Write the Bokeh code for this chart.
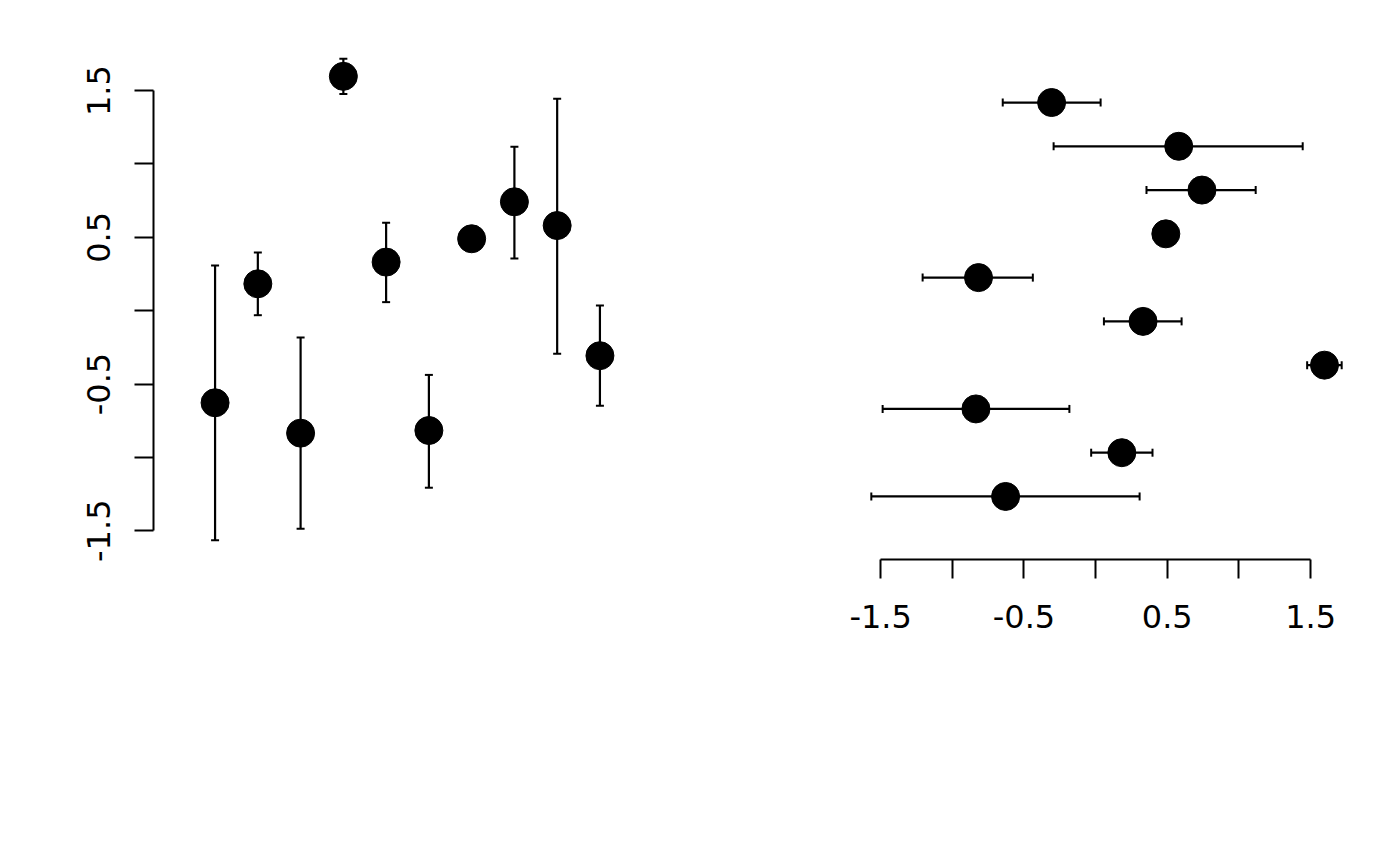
import math
from bokeh.plotting import figure
from bokeh.models import (ColumnDataSource, Range1d, FixedTicker, Whisker, TeeHead)
from bokeh.layouts import row
from bokeh.embed import file_html
from bokeh.resources import INLINE

# ---- data ----
index = [1, 2, 3, 4, 5, 6, 7, 8, 9, 10]
values = [-0.628, 0.183, -0.835, 1.597, 0.331, -0.817, 0.490, 0.742, 0.580, -0.307]
lower = [-1.565, -0.031, -1.486, 1.476, 0.058, -1.207, 0.490, 0.355, -0.293, -0.648]
upper = [0.307, 0.397, -0.183, 1.717, 0.600, -0.438, 0.490, 1.117, 1.445, 0.035]
tick_values = [-1.5, -1.0, -0.5, 0.0, 0.5, 1.0, 1.5]
tick_labels = {-1.5: "-1.5", -1.0: "", -0.5: "-0.5", 0.0: "", 0.5: "0.5", 1.0: "", 1.5: "1.5"}

src = ColumnDataSource(dict(idx=index, val=values, lo=lower, hi=upper))

# ranges (R style: 4% padding)
vmin, vmax = min(lower), max(upper)
pad = 0.04 * (vmax - vmin)
val_range = (vmin - pad, vmax + pad)
idx_range = (0 - 0.44, 11 + 0.44)

FONT = "DejaVu Sans"
FS = "32px"
FRAME_W, FRAME_H = 508, 520


def style_axis(ax, standoff):
    ax.ticker = FixedTicker(ticks=tick_values)
    ax.major_label_overrides = tick_labels
    ax.bounds = (-1.5, 1.5)
    ax.axis_line_width = 2
    ax.major_tick_line_width = 2
    ax.major_tick_out = 19
    ax.major_tick_in = 0
    ax.minor_tick_line_color = None
    ax.major_label_text_font = FONT
    ax.major_label_text_font_size = FS
    ax.major_label_text_color = "black"
    ax.axis_line_color = "black"
    ax.major_tick_line_color = "black"
    ax.major_label_standoff = standoff


# ---- left panel: vertical error bars ----
p1 = figure(frame_width=FRAME_W, frame_height=FRAME_H,
            x_range=Range1d(*idx_range), y_range=Range1d(*val_range),
            x_axis_location=None, toolbar_location=None, output_backend="svg",
            min_border_left=153, min_border_top=39, min_border_right=20,
            min_border_bottom=282)
p1.grid.visible = False
p1.outline_line_color = None
style_axis(p1.yaxis[0], 24)
p1.yaxis[0].major_label_orientation = "parallel"

p1.add_layout(Whisker(source=src, base="idx", lower="lo", upper="hi", dimension="height",
                      line_width=2.2, line_color="black",
                      lower_head=TeeHead(size=8, line_width=2, line_color="black"),
                      upper_head=TeeHead(size=8, line_width=2, line_color="black"),
                      level="glyph"))
p1.scatter("idx", "val", source=src, size=28, color="black")

# ---- right panel: horizontal error bars ----
p2 = figure(frame_width=FRAME_W, frame_height=FRAME_H,
            x_range=Range1d(*val_range), y_range=Range1d(*idx_range),
            y_axis_location=None, toolbar_location=None, output_backend="svg",
            min_border_left=171, min_border_top=39, min_border_right=20,
            min_border_bottom=282)
p2.grid.visible = False
p2.outline_line_color = None
style_axis(p2.xaxis[0], 26)

p2.add_layout(Whisker(source=src, base="idx", lower="lo", upper="hi", dimension="width",
                      line_width=2.2, line_color="black",
                      lower_head=TeeHead(size=8, line_width=2, line_color="black"),
                      upper_head=TeeHead(size=8, line_width=2, line_color="black"),
                      level="glyph"))
p2.scatter("val", "idx", source=src, size=28, color="black")

layout = row(p1, p2)
open("out.html", "w").write(file_html(layout, INLINE))
